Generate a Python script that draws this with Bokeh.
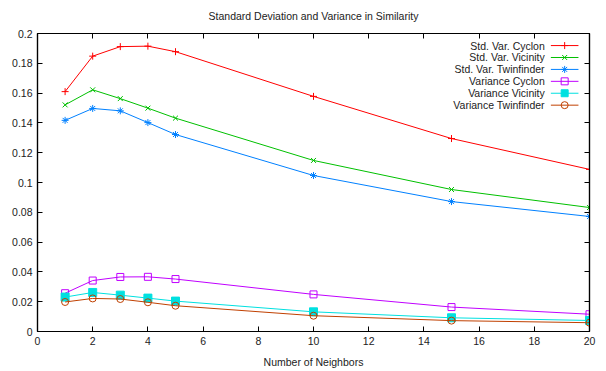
from bokeh.plotting import figure
from bokeh.models import LinearAxis, FixedTicker, Range1d, Label
from bokeh.embed import file_html
from bokeh.resources import INLINE

# Number of neighbours on the x axis
neighbors = [1, 2, 3, 4, 5, 10, 15, 20]

# Standard deviation series
std_cyclon = [0.161, 0.1848, 0.1912, 0.1915, 0.1878, 0.1578, 0.1295, 0.1088]
std_vicinity = [0.1521, 0.1622, 0.1563, 0.1499, 0.1432, 0.1148, 0.0953, 0.0832]
std_twinfinder = [0.1417, 0.1497, 0.1481, 0.1402, 0.1322, 0.1047, 0.0872, 0.0772]

# Variance series
var_cyclon = [0.0257, 0.0342, 0.0366, 0.0367, 0.0352, 0.0249, 0.0164, 0.0116]
var_vicinity = [0.0231, 0.0262, 0.0244, 0.0224, 0.0204, 0.0132, 0.0092, 0.0074]
var_twinfinder = [0.0198, 0.0222, 0.0218, 0.0196, 0.0173, 0.0106, 0.0073, 0.0059]

x_ticks = [0, 2, 4, 6, 8, 10, 12, 14, 16, 18, 20]
y_ticks = [0, 0.02, 0.04, 0.06, 0.08, 0.1, 0.12, 0.14, 0.16, 0.18, 0.2]
y_tick_labels = ["0", "0.02", "0.04", "0.06", "0.08", "0.1", "0.12", "0.14", "0.16", "0.18", "0.2"]

series = [
    ("Std. Var. Cyclon", std_cyclon, "#ff0000", "cross", True),
    ("Std. Var. Vicinity", std_vicinity, "#00c000", "x", True),
    ("Std. Var. Twinfinder", std_twinfinder, "#0080ff", "asterisk", True),
    ("Variance Cyclon", var_cyclon, "#c000ff", "square", False),
    ("Variance Vicinity", var_vicinity, "#00e0e0", "square", True),
    ("Variance Twinfinder", var_twinfinder, "#c04000", "circle", False),
]

TITLE = "Standard Deviation and Variance in Similarity"
FONT = "Liberation Sans"
FSIZE = "10.5px"
TEXT_COLOR = "#222222"

p = figure(
    width=606, height=371,
    frame_width=552, frame_height=298,
    min_border_left=37, min_border_right=17,
    min_border_top=33, min_border_bottom=40,
    x_range=Range1d(0, 20), y_range=Range1d(0, 0.2),
    output_backend="svg", toolbar_location=None,
)
p.background_fill_color = "white"
p.border_fill_color = "white"
p.outline_line_color = "black"
p.outline_line_width = 1.2
p.grid.visible = False
p.title.visible = False

def style_axis(ax):
    ax.major_tick_in = 5
    ax.major_tick_out = 0
    ax.minor_tick_in = 0
    ax.minor_tick_out = 0
    ax.axis_line_color = "black"
    ax.axis_line_width = 1.2
    ax.major_tick_line_color = "black"
    ax.major_label_text_font = FONT
    ax.major_label_text_font_size = FSIZE
    ax.major_label_text_color = TEXT_COLOR
    ax.major_label_standoff = 5

xa = p.xaxis[0]
xa.ticker = FixedTicker(ticks=x_ticks)
xa.axis_label = "Number of Neighbors"
xa.axis_label_text_font = FONT
xa.axis_label_text_font_size = FSIZE
xa.axis_label_text_font_style = "normal"
xa.axis_label_text_color = TEXT_COLOR
xa.axis_label_standoff = 8
style_axis(xa)

ya = p.yaxis[0]
ya.ticker = FixedTicker(ticks=y_ticks)
ya.major_label_overrides = {t: s for t, s in zip(y_ticks, y_tick_labels)}
style_axis(ya)

# Mirrored ticks on the top border; its axis label carries the chart title
top = LinearAxis(ticker=FixedTicker(ticks=x_ticks))
style_axis(top)
top.major_label_overrides = {t: "" for t in x_ticks}
top.major_label_standoff = 0
top.axis_label = TITLE
top.axis_label_text_font = FONT
top.axis_label_text_font_size = FSIZE
top.axis_label_text_font_style = "normal"
top.axis_label_text_color = TEXT_COLOR
top.axis_label_standoff = 12
p.add_layout(top, "above")

# Mirrored ticks on the right border, without labels
right = LinearAxis(ticker=FixedTicker(ticks=y_ticks))
style_axis(right)
right.major_label_overrides = {t: "" for t in y_ticks}
right.major_label_standoff = 0
p.add_layout(right, "right")

for name, vals, color, marker, filled in series:
    p.line(neighbors, vals, line_color=color, line_width=1)
    p.scatter(neighbors, vals, marker=marker, size=8 if (marker == "square" and filled) else 7,
              line_color=color, fill_color=color if filled else None, line_width=1)

# Key in the upper right corner: label right-aligned, sample line to its right
key_x0, key_x1 = 18.6, 19.6
key_y0, key_dy = 0.1919, 0.0080
for i, (name, vals, color, marker, filled) in enumerate(series):
    ky = key_y0 - i * key_dy
    p.line([key_x0, key_x1], [ky, ky], line_color=color, line_width=1)
    p.scatter([(key_x0 + key_x1) / 2], [ky], marker=marker, size=7,
              line_color=color, fill_color=color if filled else None, line_width=1)
    p.add_layout(Label(x=key_x0 - 0.22, y=ky, text=name, text_align="right",
                       text_baseline="middle", text_font=FONT, text_font_size=FSIZE,
                       text_color=TEXT_COLOR))

open("out.html", "w").write(file_html(p, INLINE))
